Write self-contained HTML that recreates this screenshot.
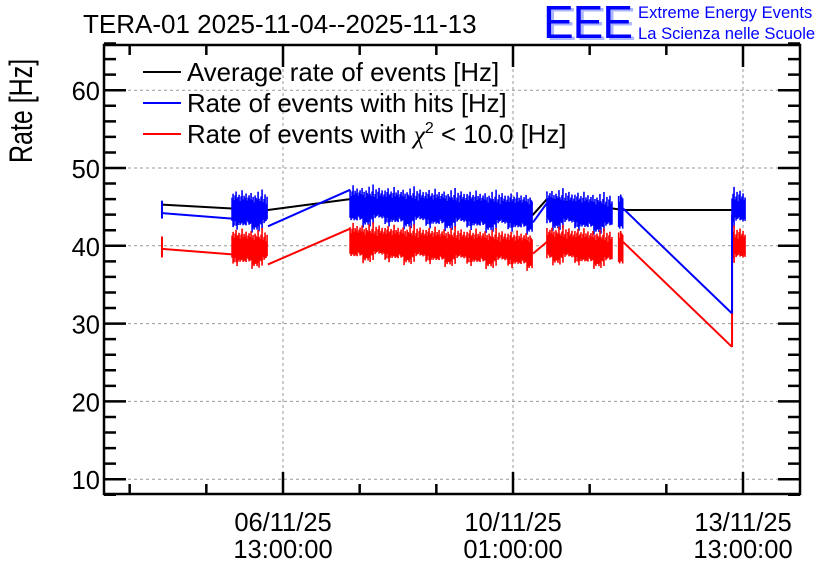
<!DOCTYPE html>
<html><head><meta charset="utf-8"><style>
html,body{margin:0;padding:0;background:#fff;}
svg{display:block;font-family:"Liberation Sans",sans-serif;}
</style></head><body>
<svg id="chart" width="836" height="572" viewBox="0 0 836 572" xmlns="http://www.w3.org/2000/svg">
<text x="83" y="33" font-size="26">TERA-01 2025-11-04--2025-11-13</text>
<g>
<text x="546" y="40" font-size="46" fill="#aab4ff" letter-spacing="-1">EEE</text>
<text x="543" y="38" font-size="46" fill="#0000ff" letter-spacing="-1">EEE</text>
<text x="638" y="18" font-size="16.6" fill="#0000ff">Extreme Energy Events</text>
<text x="638" y="39" font-size="16.6" fill="#0000ff">La Scienza nelle Scuole</text>
</g>
<text transform="translate(32,163) rotate(-90) scale(1,1.3)" text-anchor="start" font-size="25">Rate [Hz]</text>
<g id="grid"></g><g id="series"></g><g id="axes"></g>
<g font-size="25.8">
<g><line x1="143" y1="72" x2="181" y2="72" stroke="#000" stroke-width="2"/><text x="187" y="81">Average rate of events [Hz]</text></g>
<g><line x1="143" y1="103" x2="181" y2="103" stroke="#00f" stroke-width="2"/><text x="187" y="112">Rate of events with hits [Hz]</text></g>
<g><line x1="143" y1="134" x2="181" y2="134" stroke="#f00" stroke-width="2"/><text x="187" y="143">Rate of events with <tspan font-family="Liberation Serif" font-style="italic">χ</tspan><tspan font-size="16" dy="-10">2</tspan><tspan dy="10"> &lt; 10.0 [Hz]</tspan></text></g>
</g>
</svg>
<script>
// hours since 2025-11-04 00:00
const blackT = [16.8, 42.4, 55.5, 85.5, 152.3, 157.4, 185.2, 229];
const blackV = [45.3, 44.8, 44.6, 46.0, 44.0, 46.0, 44.6, 44.6];
const blueGapT = [[16.8,42.4],[55.5,85.5],[152.3,157.4],[185.2,225]];
const blueGapV = [[44.2,43.5],[42.5,47.2],[43.0,45.5],[44.8,31.3]];
const redGapT = [[16.8,42.4],[55.5,85.5],[152.3,157.4],[185.2,225]];
const redGapV = [[39.6,38.9],[37.6,42.2],[39.0,40.5],[40.5,27.0]];
const clusterStart = [42.4, 85.5, 157.4, 183.6, 225];
const clusterEnd = [55.5, 152.3, 181.5, 185.4, 230];
const blueMeanStart = [44.6, 45.2, 44.8, 44.6, 44.8];
const blueMeanEnd = [44.4, 44.2, 44.0, 44.6, 44.6];
const redMeanStart = [39.8, 40.5, 40.2, 40.0, 40.0];
const redMeanEnd = [39.6, 39.4, 39.5, 40.0, 39.9];
const devPattern = [1.6,2.1,1.3,1.9,2.4,1.5,1.7,2.0,1.2,1.8,2.6,1.4,1.9,1.6,2.2,1.3,1.7,2.0,1.5,2.3,1.4,1.8,1.1,2.0,1.7,1.5,2.5,1.6,1.3,1.9,2.8,1.2,1.6,2.2,1.0,1.9,2.4,1.4,1.7,2.1,1.3];
const yTicks = [10,20,30,40,50,60];
const xTickT = [61, 145, 229];
const xTickL1 = ["06/11/25","10/11/25","13/11/25"];
const xTickL2 = ["13:00:00","01:00:00","13:00:00"];
const endSpikeT = [16.8];
const NS="http://www.w3.org/2000/svg";
const L=104,R=800,T=45,B=494;
const x=h=>283+(h-61)*230/84;
const y=v=>168-(v-50)*7.78;
function mk(tag,attrs,parent){const e=document.createElementNS(NS,tag);for(const k in attrs)e.setAttribute(k,attrs[k]);parent.appendChild(e);return e;}
const grid=document.getElementById('grid'),ser=document.getElementById('series'),ax=document.getElementById('axes');
yTicks.forEach(v=>{const g=mk('line',{x1:L,x2:R,y1:y(v),y2:y(v),stroke:'#999','stroke-dasharray':'3,3','stroke-width':1},grid);


const t=mk('text',{x:100,y:y(v)+10,'text-anchor':'end','font-size':25.5},ax);t.textContent=v;

});
xTickT.forEach((h,i)=>{const g=mk('line',{x1:x(h),x2:x(h),y1:T,y2:B,stroke:'#999','stroke-dasharray':'3,3','stroke-width':1},grid);


const a=mk('text',{x:x(h),y:531,'text-anchor':'middle','font-size':25.5},ax);a.textContent=xTickL1[i];


const b=mk('text',{x:x(h),y:558,'text-anchor':'middle','font-size':25.5},ax);b.textContent=xTickL2[i];

});
let d='';
for(let v=8;v<=66;v+=2){const Lg=(v%10===0)?22:12;d+=`M${L} ${y(v)}h${Lg}M${R} ${y(v)}h${-Lg}`;}
for(let h=61-28*3;h<=250;h+=28){if(x(h)<L||x(h)>R)continue;const Lg=((h-61)%84===0)?22:10;d+=`M${x(h)} ${B}v${-Lg}M${x(h)} ${T}v${Lg}`;}
const tk=mk('path',{d:d,stroke:'#000','stroke-width':2.5,fill:'none'},ax);


const fr=mk('rect',{x:L,y:T,width:R-L,height:B-T,fill:'none',stroke:'#000','stroke-width':2.5},ax);


const bl=mk('polyline',{points:blackT.map((t,i)=>x(t)+','+y(blackV[i])).join(' '),fill:'none',stroke:'#000','stroke-width':2},ser);


function gaps(T_,V_,col,name){T_.forEach((p,i)=>{const l=mk('line',{x1:x(p[0]),y1:y(V_[i][0]),x2:x(p[1]),y2:y(V_[i][1]),stroke:col,'stroke-width':2},ser);

});}
function clusters(ms,me,col,scale,name){clusterStart.forEach((s,c)=>{let dd='';const x0=x(s),x1=x(clusterEnd[c]);let k=c*7;
for(let px=x0;px<=x1;px+=1){const f=(px-x0)/Math.max(1,x1-x0);const m=ms[c]+(me[c]-ms[c])*f;
const dv=devPattern[k%devPattern.length]*scale;const dv2=devPattern[(k*3+11)%devPattern.length]*scale;k++;
dd+=`M${px} ${y(m+dv)}V${y(m-dv2)}`;}
const p=mk('path',{d:dd,stroke:col,'stroke-width':1.6,fill:'none'},ser);

});}
gaps(blueGapT,blueGapV,'#00f','hits-rate-line');
clusters(blueMeanStart,blueMeanEnd,'#00f',1.0,'hits-rate-band');
gaps(redGapT,redGapV,'#f00','chi2-rate-line');
clusters(redMeanStart,redMeanEnd,'#f00',0.95,'chi2-rate-band');
endSpikeT.forEach(t=>{const a=mk('line',{x1:x(t),x2:x(t),y1:y(45.8),y2:y(43.5),stroke:'#00f','stroke-width':2},ser);


const b=mk('line',{x1:x(t),x2:x(t),y1:y(41.2),y2:y(38.5),stroke:'#f00','stroke-width':2},ser);

});
const v1=mk('line',{x1:x(225),x2:x(225),y1:y(27),y2:y(40),stroke:'#f00','stroke-width':2},ser);


const v2=mk('line',{x1:x(225),x2:x(225),y1:y(31.3),y2:y(44),stroke:'#00f','stroke-width':2},ser);


</script>
</body></html>
